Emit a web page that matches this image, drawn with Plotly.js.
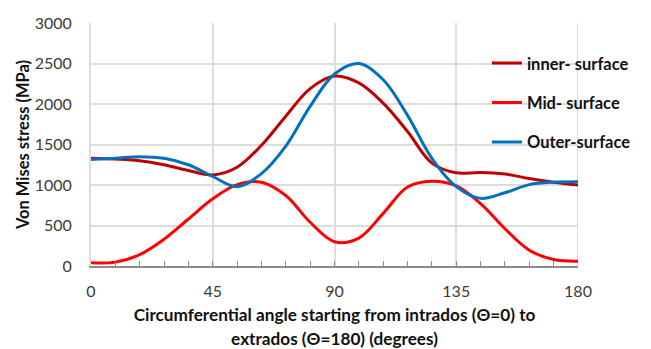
<!DOCTYPE html>
<html>
<head>
<meta charset="utf-8">
<script src="https://cdn.plot.ly/plotly-3.0.1.min.js"></script>
<style>
  html, body { margin: 0; padding: 0; background: #ffffff; }
  #chart { width: 651px; height: 349px; }
</style>
</head>
<body>
<div id="chart"></div>
<script>
// Circumferential angle (degrees) from intrados (0) to extrados (180)
const angleDeg = [0, 9, 18, 27, 36, 45, 54, 63, 72, 81, 90, 99, 108, 117, 126, 135, 144, 153, 162, 171, 180];

// Von Mises stress (MPa) on each surface
const innerSurface = [1330, 1320, 1300, 1250, 1180, 1125, 1220, 1490, 1850, 2190, 2345, 2260, 2010, 1660, 1270, 1150, 1155, 1135, 1080, 1035, 1000];
const midSurface   = [40, 48, 140, 330, 580, 830, 1005, 1035, 870, 540, 300, 345, 650, 975, 1045, 988, 770, 460, 195, 80, 60];
const outerSurface = [1315, 1330, 1350, 1330, 1250, 1105, 980, 1140, 1480, 1970, 2370, 2500, 2300, 1860, 1330, 980, 835, 905, 1005, 1035, 1040];

const seriesNames = ['inner- surface', 'Mid- surface', 'Outer-surface'];
const seriesColors = ['#C00000', '#FF0000', '#0070C0'];

const xTickVals = [0, 45, 90, 135, 180];
const yTickVals = [0, 500, 1000, 1500, 2000, 2500, 3000];

const FONT = 'Lato, "Open Sans", sans-serif';
const TEXT_DARK = '#111111';
const TICK_GREY = '#3a3a3a';
const GRID = '#dddddd';
const AXIS_GREY = '#8c8c8c';

const seriesValues = [innerSurface, midSurface, outerSurface];
const traces = seriesValues.map((vals, i) => ({
  x: angleDeg,
  y: vals,
  type: 'scatter',
  mode: 'lines',
  name: seriesNames[i],
  legendgroup: 'g' + i,
  line: { color: seriesColors[i], width: 3, shape: 'spline', smoothing: 1 },
  hoverinfo: 'x+y+name'
}));

const layout = {
  width: 651,
  height: 349,
  margin: { l: 91, r: 73, t: 23, b: 83 },
  paper_bgcolor: '#ffffff',
  plot_bgcolor: '#ffffff',
  font: { family: FONT, size: 16, color: TICK_GREY },
  showlegend: true,
  legend: {
    x: 0.813, xanchor: 'left',
    y: 0.906, yanchor: 'top',
    bgcolor: 'rgba(0,0,0,0)',
    borderwidth: 0,
    traceorder: 'grouped',
    tracegroupgap: 15,
    font: { family: FONT, size: 16.5, color: TEXT_DARK, weight: 'bold' }
  },
  xaxis: {
    range: [0, 180],
    tickvals: xTickVals,
    ticktext: xTickVals.map(String),
    showgrid: true,
    gridcolor: GRID,
    gridwidth: 2,
    zeroline: false,
    showline: true,
    linecolor: AXIS_GREY,
    linewidth: 1.5,
    ticks: 'inside',
    ticklen: 5,
    tickcolor: AXIS_GREY,
    tickwidth: 1,
    minor: { dtick: 9, tick0: 0, ticks: 'inside', ticklen: 5, tickcolor: AXIS_GREY, tickwidth: 1, showgrid: false },
    ticklabelstandoff: 10,
    tickfont: { family: FONT, size: 16, color: TICK_GREY },
    title: {
      text: '<span style="font-size:17.2px">Circumferential angle starting from intrados (Θ=0) to</span><br><span style="font-size:17.2px">extrados (Θ=180) (degrees)</span>',
      font: { family: FONT, size: 18.5, color: TEXT_DARK, weight: 'bold' },
      standoff: 9
    },
    fixedrange: true
  },
  yaxis: {
    range: [0, 3000],
    tickvals: yTickVals,
    showgrid: true,
    gridcolor: GRID,
    gridwidth: 2,
    zeroline: false,
    showline: true,
    linecolor: GRID,
    linewidth: 2,
    ticks: '',
    ticklabelstandoff: 14,
    tickfont: { family: FONT, size: 16, color: TICK_GREY },
    title: {
      text: 'Von Mises stress (MPa)',
      font: { family: FONT, size: 16.5, color: TEXT_DARK, weight: 'bold' },
      standoff: 1
    },
    fixedrange: true
  },
  shapes: [
    // right-hand border of the plot area at 180 degrees
    { type: 'line', xref: 'x', yref: 'paper', x0: 180, x1: 180, y0: 0, y1: 1, line: { color: GRID, width: 2 }, layer: 'below' }
  ]
};

Plotly.newPlot('chart', traces, layout, { displayModeBar: false, staticPlot: true });
</script>
</body>
</html>
